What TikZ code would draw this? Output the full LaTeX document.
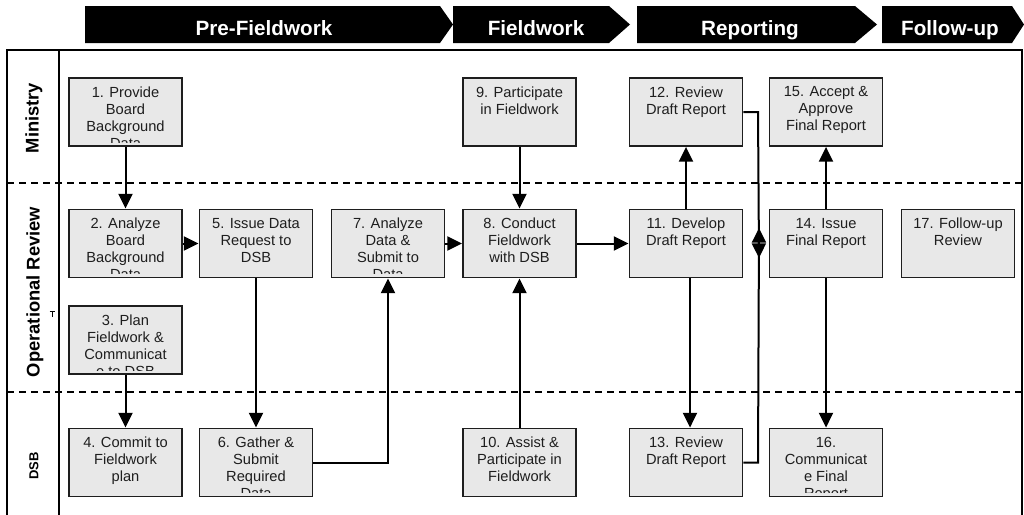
\documentclass[tikz,border=0pt]{standalone}
\usepackage{fontspec}
\setmainfont{Liberation Sans}
\usetikzlibrary{arrows.meta}
\definecolor{boxgray}{HTML}{E8E8E8}
\definecolor{ink}{HTML}{1E1E1E}
\newcommand\procbox[4]{%
  \node[box] (#1) at (#2,#3) {};
  \begin{scope}
    \clip ([xshift=0.8pt,yshift=-0.8pt]#1.north west) rectangle ([xshift=-0.8pt,yshift=3.6pt]#1.south east);
    \node[boxtext] at ([yshift=-7pt]#1.north) {#4};
  \end{scope}}
\begin{document}
\begin{tikzpicture}[x=0.75pt,y=-0.75pt,
  box/.style={draw=ink, line width=1.4pt, fill=boxgray, minimum width=84.75pt, minimum height=51pt, inner sep=0pt},
  boxtext/.style={anchor=north, inner sep=0pt, align=center, text=ink, font=\fontsize{11pt}{12.75pt}\selectfont},
  conn/.style={draw=black, line width=1.5pt, -{Triangle[length=11pt,width=10.5pt]}},
  frame/.style={draw=black, line width=1.5pt},
  lane/.style={draw=black, line width=1.3pt, dash pattern=on 5.25pt off 3.75pt},
  phase/.style={fill=black},
  phasetext/.style={anchor=base, text=white, inner sep=0pt, font=\bfseries\fontsize{15.5pt}{18pt}\selectfont},
  lanelabel/.style={rotate=90, inner sep=0pt, text=black, font=\bfseries\fontsize{13.75pt}{16pt}\selectfont}
]
\useasboundingbox (0,0) rectangle (1024,514);
\fill[white] (0,0) rectangle (1024,514);

% phase header
\fill[phase] (85,6) -- (440,6) -- (453,24.5) -- (440,43) -- (85,43) -- cycle;
\fill[phase] (453,6) -- (609,6) -- (630,24.5) -- (609,43) -- (453,43) -- cycle;
\fill[phase] (637,6) -- (855,6) -- (877,24.5) -- (855,43) -- (637,43) -- cycle;
\fill[phase] (882,6) -- (1012,6) -- (1024,24.5) -- (1012,43) -- (882,43) -- cycle;
\node[phasetext] (ph1) at (264,35) {Pre-Fieldwork};
\node[phasetext] (ph2) at (536,35) {Fieldwork};
\node[phasetext] (ph3) at (750,35) {Reporting};
\node[phasetext] (ph4) at (950,35) {Follow-up};

% frame and lanes
\draw[frame] (7,516) -- (7,50) -- (1022,50) -- (1022,516);
\draw[frame] (59,50) -- (59,516);
\draw[lane] (7,183) -- (1022,183);
\draw[lane] (7,392) -- (1022,392);
\node[lanelabel] (l1) at (34,118) {Ministry};
\node[lanelabel] (l2) at (35,292) {Operational Review};
\node[lanelabel, font=\bfseries\fontsize{9.75pt}{12pt}\selectfont] (l3) at (34,466) {DSB};
\draw[line width=0.9pt] (49.5,311.5) -- (55,311.5) (52.2,311.5) -- (52.2,317);

% boxes
\procbox{n1}{125.5}{112}{1. Provide\\Board\\Background\\Data}
\procbox{n2}{125.5}{243.5}{2. Analyze\\Board\\Background\\Data}
\procbox{n3}{125.5}{340}{3. Plan\\Fieldwork \&\\Communicat\\e to DSB}
\procbox{n4}{125.5}{462.5}{4. Commit to\\Fieldwork\\plan}
\procbox{n5}{256}{243.5}{5. Issue Data\\Request to\\DSB}
\procbox{n6}{256}{462.5}{6. Gather \&\\Submit\\Required\\Data}
\procbox{n7}{388}{243.5}{7. Analyze\\Data \&\\Submit to\\Data}
\procbox{n9}{519.5}{112}{9. Participate\\in Fieldwork}
\procbox{n8}{519.5}{243.5}{8. Conduct\\Fieldwork\\with DSB}
\procbox{n10}{519.5}{462.5}{10. Assist \&\\Participate in\\Fieldwork}
\procbox{n12}{686}{112}{12. Review\\Draft Report}
\procbox{n11}{686}{243.5}{11. Develop\\Draft Report}
\procbox{n13}{686}{462.5}{13. Review\\Draft Report}
\procbox{n15}{826}{112}{15. Accept \&\\Approve\\Final Report}
\procbox{n14}{826}{243.5}{14. Issue\\Final Report}
\procbox{n16}{826}{462.5}{16.\\Communicat\\e Final\\Report}
\procbox{n17}{958}{243.5}{17. Follow-up\\Review}

% connectors
\draw[conn] (n1) -- (n2);
\draw[conn] (n2) -- (n5);
\draw[conn] (n3) -- (n4);
\draw[conn] (n5) -- (n6);
\draw[conn] (n6.east) -| (n7.south);
\draw[conn] (n7) -- (n8);
\draw[conn] (n9) -- (n8);
\draw[conn] (n10) -- (n8);
\draw[conn] (n8) -- (n11);
\draw[conn] (n11) -- (n12);
\draw[conn] ([xshift=3pt]n11.south) -- ([xshift=3pt]n13.north);
\draw[conn] (n14) -- (n15);
\draw[conn] (n14) -- (n16);
\coordinate (m1) at (759,258);
\coordinate (m2) at (759,228);
\draw[conn] (n12.east) -- (758,112) -- (m1);
\draw[conn] (n13.east) -- (758,462.5) -- (m2);
\end{tikzpicture}
\end{document}
